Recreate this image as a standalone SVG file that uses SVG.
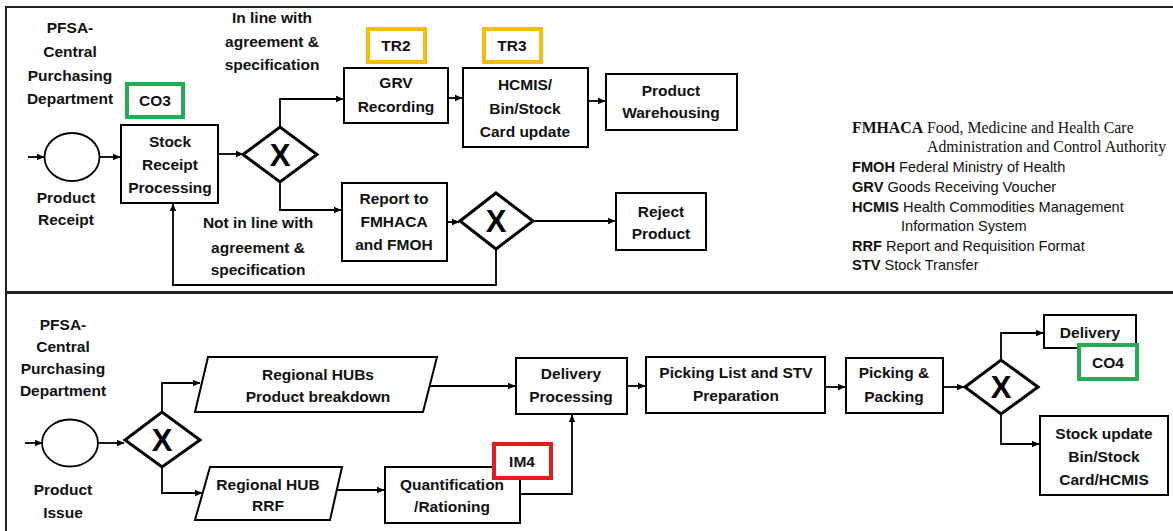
<svg xmlns="http://www.w3.org/2000/svg" width="1173" height="531" viewBox="0 0 1173 531">
<defs>
<marker id="ah" markerWidth="8" markerHeight="8" refX="7" refY="4" orient="auto" markerUnits="userSpaceOnUse">
<path d="M0,0.8 L7.5,4 L0,7.2 Z" fill="#000"/>
</marker>
<style>
.box{fill:#fff;stroke:#000;stroke-width:2}
.tag{fill:#fff;stroke-width:4}
.co{stroke:#22ad55}
.tr{stroke:#f7bb14}
.im{stroke:#e41c1c}
.t{font-family:"Liberation Sans",Arial,sans-serif;font-weight:bold;font-size:15.5px;fill:#111;text-anchor:middle}
.x{font-family:"Liberation Sans",Arial,sans-serif;font-weight:bold;font-size:31px;fill:#000;text-anchor:middle}
.c{fill:none;stroke:#000;stroke-width:1.8;marker-end:url(#ah)}
.lg{font-family:"Liberation Sans",Arial,sans-serif;font-size:14.6px;fill:#111}
.lgs{font-family:"Liberation Serif","Times New Roman",serif;font-size:15.8px;fill:#111}
.b{font-weight:bold}
.frame{fill:none;stroke:#222}
</style>
</defs>
<rect width="1173" height="531" fill="#fff"/>
<g id="frame">
<path class="frame" d="M6,531 V7 H1173" stroke-width="2"/>
<path class="frame" d="M6,292.5 H1173" stroke-width="3"/>
</g>
<g id="connectors">
<path class="c" d="M28,157 H44"/>
<path class="c" d="M100,157 H120"/>
<path class="c" d="M218,154 H243"/>
<path class="c" d="M280,127 V99 H343"/>
<path class="c" d="M280,182 V210 H341"/>
<path class="c" d="M448,98 H462"/>
<path class="c" d="M588,101 H605"/>
<path class="c" d="M447,222 H459"/>
<path class="c" d="M533,221 H615"/>
<path class="c" d="M496,249 V285 H173 V204"/>
<path class="c" d="M25,443 H42"/>
<path class="c" d="M99,443 H124"/>
<path class="c" d="M162,412 V383 H200"/>
<path class="c" d="M162,467 V493 H202"/>
<path class="c" d="M430,386 H515"/>
<path class="c" d="M337,490 H384"/>
<path class="c" d="M520,494 H572 V415"/>
<path class="c" d="M627,386 H645"/>
<path class="c" d="M825,387 H845"/>
<path class="c" d="M943,387 H964"/>
<path class="c" d="M1001,360 V333 H1043"/>
<path class="c" d="M1001,414 V444 H1039"/>
</g>
<g id="lane1-label">
<text class="t" x="70" y="33">PFSA-</text>
<text class="t" x="70" y="57">Central</text>
<text class="t" x="70" y="81">Purchasing</text>
<text class="t" x="70" y="104">Department</text>
</g>
<g id="start-receipt">
<ellipse cx="72" cy="157" rx="27.5" ry="24" fill="#fff" stroke="#000" stroke-width="1.8"/>
<text class="t" x="66" y="203">Product</text>
<text class="t" x="66" y="225">Receipt</text>
</g>
<g id="co3">
<rect class="tag co" x="127" y="84" width="56" height="33"/>
<text class="t" x="155" y="106">CO3</text>
</g>
<g id="stock-receipt">
<rect class="box" x="121" y="125" width="97" height="78"/>
<text class="t" x="170" y="147">Stock</text>
<text class="t" x="170" y="170">Receipt</text>
<text class="t" x="170" y="193">Processing</text>
</g>
<g id="gw1">
<path d="M243,154.5 L280,127 L317,154.5 L280,182 Z" fill="#fff" stroke="#000" stroke-width="3"/>
<text class="x" x="280" y="165.5">X</text>
</g>
<g id="label-inline">
<text class="t" x="272" y="23">In line with</text>
<text class="t" x="272" y="47">agreement &amp;</text>
<text class="t" x="272" y="70">specification</text>
</g>
<g id="label-notinline">
<text class="t" x="258" y="228">Not in line with</text>
<text class="t" x="258" y="253">agreement &amp;</text>
<text class="t" x="258" y="275">specification</text>
</g>
<g id="tr2">
<rect class="tag tr" x="368" y="29" width="57" height="33"/>
<text class="t" x="396" y="51">TR2</text>
</g>
<g id="grv">
<rect class="box" x="344" y="68" width="104" height="55"/>
<text class="t" x="396" y="88">GRV</text>
<text class="t" x="396" y="112">Recording</text>
</g>
<g id="tr3">
<rect class="tag tr" x="484" y="29" width="57" height="33"/>
<text class="t" x="512" y="51">TR3</text>
</g>
<g id="hcmis">
<rect class="box" x="463" y="68" width="125" height="79"/>
<text class="t" x="525" y="90">HCMIS/</text>
<text class="t" x="525" y="114">Bin/Stock</text>
<text class="t" x="525" y="137">Card update</text>
</g>
<g id="warehousing">
<rect class="box" x="606" y="74" width="131" height="56"/>
<text class="t" x="671" y="96">Product</text>
<text class="t" x="671" y="118">Warehousing</text>
</g>
<g id="report">
<rect class="box" x="342" y="183" width="105" height="78"/>
<text class="t" x="394" y="204">Report to</text>
<text class="t" x="394" y="227">FMHACA</text>
<text class="t" x="394" y="250">and FMOH</text>
</g>
<g id="gw2">
<path d="M460,221 L496,193 L533,221 L496,249 Z" fill="#fff" stroke="#000" stroke-width="3"/>
<text class="x" x="496" y="232">X</text>
</g>
<g id="reject">
<rect class="box" x="616" y="193" width="90" height="57"/>
<text class="t" x="661" y="217">Reject</text>
<text class="t" x="661" y="239">Product</text>
</g>
<g id="legend">
<text class="lgs" x="852" y="133"><tspan class="b">FMHACA</tspan> Food, Medicine and Health Care</text>
<text class="lgs" x="927" y="152">Administration and Control Authority</text>
<text class="lg" x="852" y="172"><tspan class="b">FMOH</tspan> Federal Ministry of Health</text>
<text class="lg" x="852" y="192"><tspan class="b">GRV</tspan> Goods Receiving Voucher</text>
<text class="lg" x="852" y="212"><tspan class="b">HCMIS</tspan> Health Commodities Management</text>
<text class="lg" x="901" y="231">Information System</text>
<text class="lg" x="852" y="251"><tspan class="b">RRF</tspan> Report and Requisition Format</text>
<text class="lg" x="852" y="270"><tspan class="b">STV</tspan> Stock Transfer</text>
</g>
<g id="lane2-label">
<text class="t" x="63" y="330">PFSA-</text>
<text class="t" x="63" y="352">Central</text>
<text class="t" x="63" y="374">Purchasing</text>
<text class="t" x="63" y="396">Department</text>
</g>
<g id="start-issue">
<ellipse cx="70" cy="443" rx="28" ry="23.5" fill="#fff" stroke="#000" stroke-width="1.8"/>
<text class="t" x="63" y="495">Product</text>
<text class="t" x="63" y="518">Issue</text>
</g>
<g id="gw3">
<path d="M125,440 L162,412 L200,440 L162,467 Z" fill="#fff" stroke="#000" stroke-width="3"/>
<text class="x" x="162" y="451">X</text>
</g>
<g id="hub-breakdown">
<path class="box" d="M208,357 H437 L423,412 H195 Z"/>
<text class="t" x="318" y="380">Regional HUBs</text>
<text class="t" x="318" y="402">Product breakdown</text>
</g>
<g id="hub-rrf">
<path class="box" d="M210,467 H342 L330,520 H195 Z"/>
<text class="t" x="268" y="490">Regional HUB</text>
<text class="t" x="268" y="511">RRF</text>
</g>
<g id="quantification">
<rect class="box" x="385" y="467" width="135" height="56"/>
<text class="t" x="452" y="490">Quantification</text>
<text class="t" x="452" y="512">/Rationing</text>
</g>
<g id="im4">
<rect class="tag im" x="494" y="444" width="57" height="34"/>
<text class="t" x="522" y="467">IM4</text>
</g>
<g id="delivery-processing">
<rect class="box" x="516" y="358" width="111" height="56"/>
<text class="t" x="571" y="379">Delivery</text>
<text class="t" x="571" y="402">Processing</text>
</g>
<g id="picking-list">
<rect class="box" x="646" y="357" width="179" height="56"/>
<text class="t" x="736" y="378">Picking List and STV</text>
<text class="t" x="736" y="401">Preparation</text>
</g>
<g id="picking-packing">
<rect class="box" x="846" y="358" width="97" height="55"/>
<text class="t" x="894" y="378">Picking &amp;</text>
<text class="t" x="894" y="402">Packing</text>
</g>
<g id="gw4">
<path d="M965,387 L1001,360 L1038,387 L1001,414 Z" fill="#fff" stroke="#000" stroke-width="3"/>
<text class="x" x="1001" y="398">X</text>
</g>
<g id="delivery">
<rect class="box" x="1044" y="315" width="92" height="33"/>
<text class="t" x="1090" y="338">Delivery</text>
</g>
<g id="co4">
<rect class="tag co" x="1079" y="345" width="58" height="34"/>
<text class="t" x="1108" y="368">CO4</text>
</g>
<g id="stock-update">
<rect class="box" x="1040" y="416" width="128" height="79"/>
<text class="t" x="1104" y="439">Stock update</text>
<text class="t" x="1104" y="462">Bin/Stock</text>
<text class="t" x="1104" y="485">Card/HCMIS</text>
</g>
</svg>
